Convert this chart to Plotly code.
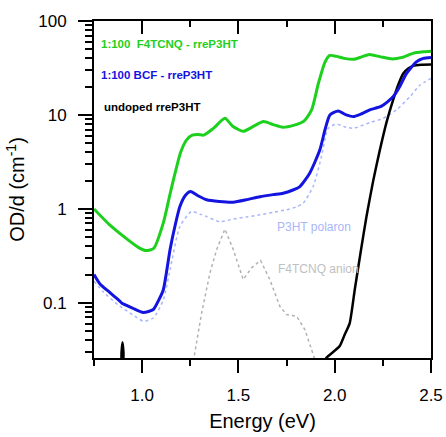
import plotly.graph_objects as go
import numpy as np

# ---- data ----
green_E = [0.75,0.83,0.92,0.98,1.02,1.06,1.11,1.15,1.2,1.23,1.26,1.29,1.32,1.37,1.43,1.47,1.525,1.58,1.63,1.68,1.73,1.79,1.84,1.88,1.915,1.95,1.975,2.01,2.05,2.1,2.14,2.18,2.24,2.3,2.35,2.41,2.46,2.5]
green_V = [1.0,0.68,0.48,0.39,0.36,0.38,0.71,1.6,4.0,5.4,6.1,6.2,6.1,7.2,9.2,7.6,6.7,7.6,8.5,7.9,7.4,7.8,8.6,11.3,21.6,36.7,43,42,40,39.2,41.5,44,41.5,39.5,41,45.5,47,47.7]

blue_E = [0.75,0.78,0.83,0.876,0.885,0.895,0.95,1.006,1.058,1.084,1.11,1.145,1.17,1.196,1.225,1.252,1.29,1.335,1.4,1.473,1.54,1.612,1.68,1.732,1.78,1.819,1.87,1.922,1.95,1.975,2.018,2.06,2.096,2.14,2.182,2.243,2.303,2.34,2.372,2.424,2.46,2.5]
blue_V = [0.2,0.16,0.13,0.108,0.104,0.099,0.088,0.079,0.085,0.105,0.138,0.37,0.65,1.06,1.4,1.53,1.38,1.25,1.2,1.18,1.25,1.35,1.42,1.47,1.58,1.73,2.4,4.2,7.0,10.0,11.0,10.0,9.6,10.3,11.3,12.4,15.6,20.5,27.5,36.7,40,41]

black_E = [0.75,0.85,0.885,0.893,0.898,0.903,0.91,1.0,1.5,1.9,1.957,2.0,2.027,2.05,2.078,2.104,2.135,2.165,2.2,2.234,2.27,2.303,2.33,2.355,2.38,2.407,2.45,2.5]
black_V = [0.01,0.01,0.01,0.03,0.038,0.03,0.01,0.01,0.01,0.015,0.026,0.031,0.035,0.045,0.061,0.138,0.35,0.83,2.0,4.2,8.5,14.4,21,27.5,31,33.3,34.3,34.5]

polaron_E = [0.75,0.8,0.876,0.95,1.006,1.058,1.11,1.145,1.196,1.257,1.3,1.335,1.404,1.473,1.54,1.612,1.68,1.75,1.8,1.836,1.888,1.931,1.966,2.009,2.05,2.096,2.182,2.251,2.32,2.39,2.442,2.5]
polaron_V = [0.17,0.13,0.095,0.075,0.064,0.069,0.108,0.226,0.65,0.94,0.88,0.83,0.73,0.78,0.82,0.865,0.92,0.98,1.05,1.15,1.73,3.6,7.2,8.0,7.5,7.2,8.3,9.2,11.3,15.6,20.7,24.5]

anion_E = [1.25,1.269,1.309,1.352,1.387,1.43,1.473,1.525,1.568,1.615,1.663,1.715,1.75,1.802,1.845,1.897,1.92]
anion_V = [0.018,0.026,0.078,0.208,0.37,0.61,0.37,0.177,0.236,0.283,0.177,0.092,0.075,0.072,0.052,0.026,0.018]

x_major = [1.0, 1.5, 2.0, 2.5]
x_major_labels = ["1.0", "1.5", "2.0", "2.5"]
x_minor = [0.75, 1.25, 1.75, 2.25]
y_major = [0.1, 1, 10, 100]
y_major_labels = ["0.1", "1", "10", "100"]
y_minor = [m * 10.0**d for d in range(-2, 2) for m in range(2, 10)]

GREEN = "rgb(30,208,30)"
BLUE = "rgb(20,20,225)"
LIGHTBLUE = "rgb(170,182,250)"
GRAY = "rgb(178,178,178)"
FONT = "Arial, Liberation Sans, sans-serif"
Y_LO = 0.0259

fig = go.Figure()
fig.add_trace(go.Scatter(x=anion_E, y=anion_V, mode="lines",
                         line=dict(color=GRAY, width=1.5, dash="dot")))
fig.add_trace(go.Scatter(x=polaron_E, y=polaron_V, mode="lines",
                         line=dict(color=LIGHTBLUE, width=1.5, dash="dot", shape="spline", smoothing=0.6)))
fig.add_trace(go.Scatter(x=black_E, y=black_V, mode="lines",
                         line=dict(color="black", width=2.5, shape="spline", smoothing=0.5)))
fig.add_trace(go.Scatter(x=blue_E, y=blue_V, mode="lines",
                         line=dict(color=BLUE, width=3, shape="spline", smoothing=0.6)))
fig.add_trace(go.Scatter(x=green_E, y=green_V, mode="lines",
                         line=dict(color=GREEN, width=3, shape="spline", smoothing=0.6)))
# invisible trace so the top axis (inside ticks) is drawn
fig.add_trace(go.Scatter(x=[1.0, 2.0], y=[1.0, 1.0], xaxis="x2", yaxis="y", mode="lines",
                         line=dict(width=0, color="rgba(0,0,0,0)"), hoverinfo="skip"))

fig.update_layout(
    width=446, height=437,
    margin=dict(l=94, r=15, t=21, b=79, autoexpand=False),
    paper_bgcolor="white", plot_bgcolor="white",
    showlegend=False,
    font=dict(family=FONT, color="black", size=17),
    xaxis=dict(
        range=[0.75, 2.5], showgrid=False, zeroline=False, automargin=False,
        showline=True, linecolor="black", linewidth=2,
        ticks="outside", ticklen=13, tickwidth=2, tickcolor="black",
        tickmode="array", tickvals=x_major, ticktext=x_major_labels,
        tickfont=dict(size=17), ticklabelstandoff=8,
        minor=dict(ticks="outside", ticklen=6, tickwidth=2, tickcolor="black",
                   tickmode="array", tickvals=x_minor, showgrid=False),
        title=dict(text="Energy (eV)", font=dict(size=20), standoff=10),
    ),
    xaxis2=dict(
        range=[0.75, 2.5], overlaying="x", side="top", anchor="y",
        showgrid=False, zeroline=False, automargin=False,
        showline=True, linecolor="black", linewidth=2,
        ticks="inside", ticklen=13, tickwidth=2, tickcolor="black",
        tickmode="array", tickvals=x_major, showticklabels=False,
        minor=dict(ticks="inside", ticklen=6, tickwidth=2, tickcolor="black",
                   tickmode="array", tickvals=x_minor, showgrid=False),
    ),
    yaxis=dict(
        type="log", range=[np.log10(Y_LO), 2], showgrid=False, zeroline=False,
        automargin=False,
        showline=True, linecolor="black", linewidth=2, mirror=True,
        ticks="outside", ticklen=14, tickwidth=2, tickcolor="black",
        tickmode="array", tickvals=y_major, ticktext=y_major_labels,
        tickfont=dict(size=17), ticklabelstandoff=8,
        minor=dict(ticks="outside", ticklen=7, tickwidth=2, tickcolor="black",
                   tickmode="array", tickvals=y_minor, showgrid=False),
        title=dict(text="OD/d (cm<sup>-1</sup>)", font=dict(size=20), standoff=8),
    ),
)

ann = [
    ("1:100  F4TCNQ - rreP3HT", GREEN, 0.016, 0.932, True),
    ("1:100 BCF - rreP3HT", BLUE, 0.016, 0.84, True),
    ("undoped rreP3HT", "black", 0.024, 0.744, True),
    ("P3HT polaron", LIGHTBLUE, 0.537, 0.39, False),
    ("F4TCNQ anion", "rgb(192,192,192)", 0.540, 0.264, False),
]
for text, col, xp, yp, bold in ann:
    fig.add_annotation(
        text=f"<b>{text}</b>" if bold else text,
        x=xp, y=yp, xref="paper", yref="paper",
        xanchor="left", yanchor="middle", showarrow=False,
        font=dict(color=col, size=11.5 if bold else 12, family=FONT),
    )

fig.write_html("out.html")
